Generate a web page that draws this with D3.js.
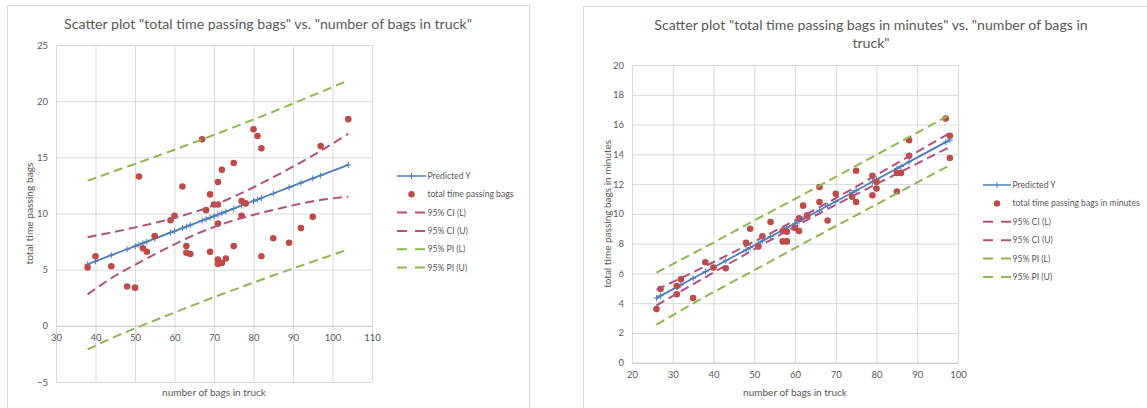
<!DOCTYPE html>
<html>
<head>
<meta charset="utf-8">
<script src="https://cdn.jsdelivr.net/npm/d3@7"></script>
<style>
  html, body { margin: 0; padding: 0; background: #fff; }
  svg { display: block; font-family: Lato, "Open Sans", sans-serif; }
</style>
</head>
<body>
<svg id="chart" width="1147" height="408"></svg>
<script>
// ---- Left chart: total time vs. number of bags ----
const leftBags = [38,40,44,48,50,51,52,53,55,59,60,62,63,63,64,67,68,69,69,70,71,71,71,71,71,72,72,73,75,75,77,77,78,80,81,82,82,85,89,92,95,97,104];
const leftTime = [5.2,6.2,5.3,3.5,3.4,13.3,6.9,6.6,8.0,9.4,9.8,12.4,7.1,6.5,6.4,16.6,10.3,11.7,6.6,10.8,10.8,12.8,9.1,5.9,5.5,13.9,5.6,6.0,14.5,7.1,11.1,9.8,10.9,17.5,16.9,15.8,6.2,7.8,7.4,8.7,9.7,16.0,18.4];
const leftFitBags = [38,40,44,48,50,51,52,53,55,59,60,62,63,64,67,68,69,70,71,72,73,75,77,78,80,81,82,85,89,92,95,97,104];
const leftPredicted = [5.48,5.75,6.29,6.82,7.09,7.22,7.36,7.49,7.76,8.30,8.43,8.70,8.83,8.97,9.37,9.50,9.64,9.77,9.90,10.04,10.17,10.44,10.71,10.84,11.11,11.24,11.38,11.78,12.32,12.72,13.12,13.39,14.33];
const leftBandBags = [38,45,52,60,69,78,86,95,104];
const leftCiLower = [2.8,4.46,5.80,7.26,8.67,9.69,10.40,11.09,11.5];
const leftCiUpper = [7.9,8.38,8.92,9.60,10.61,11.99,13.42,15.15,17.1];
const leftPiLower = [-2.1,-0.96,0.06,1.18,2.42,3.59,4.61,5.72,6.8];
const leftPiUpper = [12.9,13.8,14.66,15.68,16.86,18.09,19.21,20.52,21.85];
const leftXTicks = [30,40,50,60,70,80,90,100,110];
const leftYTicks = [-5,0,5,10,15,20,25];

// ---- Right chart: total time in minutes vs. number of bags ----
const rightBags = [26,27,31,31,32,35,38,40,43,48,49,51,52,54,57,57,58,58,60,61,61,62,63,66,66,68,70,74,75,75,79,79,80,80,85,85,86,88,88,97,98,98];
const rightTime = [3.6,4.95,5.15,4.6,5.6,4.35,6.75,6.4,6.35,8.05,9.0,7.8,8.5,9.45,8.15,8.85,8.8,8.15,9.05,8.85,9.7,10.55,9.9,11.8,10.8,9.55,11.35,11.15,12.9,10.8,12.55,11.25,12.15,11.7,12.75,11.5,12.75,14.95,13.9,16.4,15.25,13.75];
const rightFitBags = [26,27,31,32,35,38,40,43,48,49,51,52,54,57,58,60,61,62,63,66,68,70,74,75,79,80,85,86,88,97,98];
const rightPredicted = [4.34,4.49,5.08,5.22,5.67,6.11,6.40,6.85,7.58,7.73,8.03,8.18,8.47,8.91,9.06,9.36,9.50,9.65,9.80,10.24,10.54,10.83,11.42,11.57,12.16,12.31,13.05,13.19,13.49,14.82,14.96];
const rightBandBags = [26,38,50,62,74,86,98];
const rightCiLower = [3.85,5.74,7.62,9.45,11.17,12.83,14.5];
const rightCiUpper = [4.9,6.48,8.14,9.85,11.67,13.55,15.43];
const rightPiLower = [2.55,4.44,6.21,8.0,9.76,11.52,13.27];
const rightPiUpper = [6.05,7.78,9.55,11.3,13.08,14.86,16.65];
const rightXTicks = [20,30,40,50,60,70,80,90,100];
const rightYTicks = [0,2,4,6,8,10,12,14,16,18,20];

const seriesNames = ["Predicted Y", "95% CI (L)", "95% CI (U)", "95% PI (L)", "95% PI (U)"];

const COLORS = {
  predicted: "#4a7ebb",
  points: "#be4b48",
  ci: "#b3507c",
  pi: "#8db84a",
  grid: "#d9d9d9",
  text: "#595959",
  frame: "#d9d9d9"
};

const svg = d3.select("#chart");
svg.append("rect").attr("width", 1147).attr("height", 408).attr("fill", "#fff");

// Scale a text element's font size so it spans the given width.
function fitWidth(sel, width) {
  const w = sel.node().getComputedTextLength();
  const fs = parseFloat(sel.attr("font-size"));
  if (w > 0) sel.attr("font-size", (fs * width / w).toFixed(2));
  return sel;
}

function zip(xs, ys) { return xs.map((x, i) => ({ x: x, y: ys[i] })); }

function drawChart(cfg) {
  const g = svg.append("g");

  // chart frame
  g.append("rect")
    .attr("x", cfg.frame[0] + 0.5).attr("y", cfg.frame[1] + 0.5)
    .attr("width", cfg.frame[2]).attr("height", cfg.frame[3])
    .attr("fill", "#fff").attr("stroke", COLORS.frame);

  const x = d3.scaleLinear().domain(cfg.xDomain).range(cfg.xRange);
  const y = d3.scaleLinear().domain(cfg.yDomain).range(cfg.yRange);

  // gridlines
  const gx = g.append("g").attr("transform", `translate(0,${cfg.yRange[0]})`)
    .call(d3.axisBottom(x).tickValues(cfg.xTicks).tickSize(-(cfg.yRange[0] - cfg.yRange[1])).tickFormat(""));
  gx.select(".domain").remove();
  gx.selectAll("line").attr("stroke", COLORS.grid);
  const gy = g.append("g").attr("transform", `translate(${cfg.xRange[0]},0)`)
    .call(d3.axisLeft(y).tickValues(cfg.yTicks).tickSize(-(cfg.xRange[1] - cfg.xRange[0])).tickFormat(""));
  gy.select(".domain").remove();
  gy.selectAll("line").attr("stroke", COLORS.grid);

  // axis labels
  const yAxis = g.append("g").attr("transform", `translate(${cfg.xRange[0]},0)`)
    .call(d3.axisLeft(y).tickValues(cfg.yTicks).tickSize(0).tickPadding(8));
  yAxis.select(".domain").remove();
  yAxis.selectAll("text").attr("fill", COLORS.text).attr("font-size", 9.5).attr("font-family", "Lato");

  const xAxisY = y(cfg.xAxisAt);
  const xAxis = g.append("g").attr("transform", `translate(0,${xAxisY})`)
    .call(d3.axisBottom(x).tickValues(cfg.xTicks).tickSize(0).tickPadding(cfg.xPad));
  xAxis.select(".domain").attr("stroke", "#c8c8c8");
  xAxis.selectAll("text").attr("fill", COLORS.text).attr("font-size", 9.5).attr("font-family", "Lato");

  // titles
  const title = g.append("g").attr("fill", COLORS.text).attr("text-anchor", "middle");
  cfg.title.forEach((line, i) => {
    const t = title.append("text").attr("x", cfg.titleX).attr("y", cfg.titleY + i * 17.5)
      .attr("font-size", 14).text(line);
    if (i === 0) cfg.titleSize = parseFloat(fitWidth(t, cfg.titleWidth).attr("font-size"));
    else t.attr("font-size", cfg.titleSize);
  });
  const xt = g.append("text").attr("x", (cfg.xRange[0] + cfg.xRange[1]) / 2).attr("y", cfg.xTitleY)
    .attr("text-anchor", "middle").attr("fill", COLORS.text).attr("font-size", 10)
    .text("number of bags in truck");
  fitWidth(xt, 104);
  const yt = g.append("text")
    .attr("transform", `translate(${cfg.yTitleX},${(cfg.yRange[0] + cfg.yRange[1]) / 2}) rotate(-90)`)
    .attr("text-anchor", "middle").attr("fill", COLORS.text).attr("font-size", 10)
    .text(cfg.yTitle);
  fitWidth(yt, cfg.yTitleWidth);

  const line = d3.line().x(d => x(d.x)).y(d => y(d.y));
  const band = d3.line().x(d => x(d.x)).y(d => y(d.y)).curve(d3.curveMonotoneX);

  // predicted line with plus markers
  const pred = zip(cfg.fitBags, cfg.predicted);
  g.append("path").datum(pred).attr("d", line)
    .attr("fill", "none").attr("stroke", COLORS.predicted).attr("stroke-width", 1.8);
  g.append("g").selectAll("path").data(pred).join("path")
    .attr("d", d => `M${x(d.x) - 3},${y(d.y)}h6M${x(d.x)},${y(d.y) - 3}v6`)
    .attr("stroke", COLORS.predicted).attr("stroke-width", 1);

  // observations
  g.append("g").selectAll("circle").data(zip(cfg.bags, cfg.time)).join("circle")
    .attr("cx", d => x(d.x)).attr("cy", d => y(d.y)).attr("r", 3.3)
    .attr("fill", COLORS.points);

  // confidence and prediction intervals
  [[cfg.ciLower, COLORS.ci], [cfg.ciUpper, COLORS.ci], [cfg.piLower, COLORS.pi], [cfg.piUpper, COLORS.pi]]
    .forEach(([vals, color]) => {
      g.append("path").datum(zip(cfg.bandBags, vals)).attr("d", band)
        .attr("fill", "none").attr("stroke", color).attr("stroke-width", 2)
        .attr("stroke-dasharray", "9,5");
    });

  // legend
  const legendRows = [
    { name: seriesNames[0], kind: "plus", color: COLORS.predicted },
    { name: cfg.pointsName, kind: "dot", color: COLORS.points },
    { name: seriesNames[1], kind: "dash", color: COLORS.ci },
    { name: seriesNames[2], kind: "dash", color: COLORS.ci },
    { name: seriesNames[3], kind: "dash", color: COLORS.pi },
    { name: seriesNames[4], kind: "dash", color: COLORS.pi }
  ];
  const lg = g.append("g");
  const [lx0, lx1] = cfg.legendX;
  legendRows.forEach((r, i) => {
    const ly = cfg.legendY + i * cfg.legendStep;
    const row = lg.append("g");
    if (r.kind === "plus") {
      row.append("line").attr("x1", lx0).attr("x2", lx1).attr("y1", ly).attr("y2", ly)
        .attr("stroke", r.color).attr("stroke-width", 1.5);
      const mx = (lx0 + lx1) / 2;
      row.append("path").attr("d", `M${mx},${ly - 3}v6`).attr("stroke", r.color).attr("stroke-width", 1);
    } else if (r.kind === "dot") {
      row.append("circle").attr("cx", (lx0 + lx1) / 2).attr("cy", ly).attr("r", 3.2).attr("fill", r.color);
    } else {
      row.append("line").attr("x1", lx0).attr("x2", lx1).attr("y1", ly).attr("y2", ly)
        .attr("stroke", r.color).attr("stroke-width", 2).attr("stroke-dasharray", "10,8");
    }
    row.append("text").attr("x", lx1 + 1.5).attr("y", ly).attr("dy", "0.35em")
      .attr("fill", COLORS.text).attr("font-size", cfg.legendSize).text(r.name);
  });
}

drawChart({
  frame: [7, 5, 522, 420],
  xDomain: [30, 110], xRange: [56, 372],
  yDomain: [-5, 25], yRange: [382, 45],
  xTicks: leftXTicks, yTicks: leftYTicks,
  xAxisAt: 0, xPad: 8,
  title: ['Scatter plot "total time passing bags" vs. "number of bags in truck"'],
  titleX: 268, titleY: 29, titleWidth: 408,
  xTitleY: 396,
  yTitle: "total time passing bags", yTitleX: 33, yTitleWidth: 102,
  bags: leftBags, time: leftTime,
  fitBags: leftFitBags, predicted: leftPredicted,
  bandBags: leftBandBags,
  ciLower: leftCiLower, ciUpper: leftCiUpper, piLower: leftPiLower, piUpper: leftPiUpper,
  pointsName: "total time passing bags",
  legendX: [397, 426], legendY: 176, legendStep: 18.3, legendSize: 8.6
});

drawChart({
  frame: [583, 6, 620, 420],
  xDomain: [20, 100], xRange: [632, 958],
  yDomain: [0, 20], yRange: [362.7, 65],
  xTicks: rightXTicks, yTicks: rightYTicks,
  xAxisAt: 0, xPad: 9,
  title: ['Scatter plot "total time passing bags in minutes" vs. "number of bags in', 'truck"'],
  titleX: 871, titleY: 30, titleWidth: 434,
  xTitleY: 396,
  yTitle: "total time passing bags in minutes", yTitleX: 611, yTitleWidth: 148,
  bags: rightBags, time: rightTime,
  fitBags: rightFitBags, predicted: rightPredicted,
  bandBags: rightBandBags,
  ciLower: rightCiLower, ciUpper: rightCiUpper, piLower: rightPiLower, piUpper: rightPiUpper,
  pointsName: "total time passing bags in minutes",
  legendX: [983, 1011], legendY: 185, legendStep: 18.4, legendSize: 8.6
});
</script>
</body>
</html>
